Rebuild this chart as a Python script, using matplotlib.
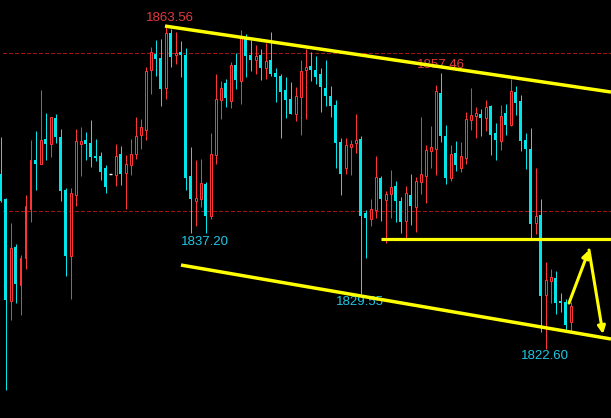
import numpy as np
import matplotlib
matplotlib.use("Agg")
import matplotlib.pyplot as plt

# candle data (one candle per bar, oldest first)
opens = [1844.73, 1841.56, 1828.69, 1835.49, 1830.72, 1834.14, 1840.34, 1846.50, 1846.03, 1849.16,
         1848.57, 1851.81, 1849.41, 1842.70, 1834.39, 1842.11, 1848.48, 1849.03, 1848.65, 1847.05,
         1847.00, 1845.49, 1844.68, 1844.64, 1847.26, 1844.89, 1845.82, 1847.30, 1849.70, 1850.34,
         1857.93, 1859.92, 1859.41, 1855.65, 1862.57, 1859.75, 1860.17, 1859.79, 1844.47, 1841.35,
         1841.60, 1843.46, 1839.45, 1847.17, 1854.14, 1856.24, 1854.01, 1858.52, 1856.54, 1861.94,
         1859.79, 1859.20, 1859.79, 1858.19, 1859.16, 1857.51, 1857.13, 1855.36, 1854.22, 1852.36,
         1854.51, 1857.89, 1858.40, 1857.89, 1857.38, 1855.61, 1854.60, 1853.46, 1848.78, 1845.49,
         1848.14, 1848.65, 1849.16, 1839.79, 1839.03, 1840.17, 1844.22, 1841.43, 1842.19, 1843.21,
         1841.31, 1838.78, 1842.07, 1840.55, 1843.71, 1844.47, 1847.64, 1847.89, 1854.98, 1849.54,
         1844.22, 1847.38, 1845.49, 1846.75, 1851.56, 1852.07, 1852.32, 1851.81, 1853.33, 1849.92,
         1848.95, 1852.45, 1850.93, 1855.11, 1853.97, 1849.03, 1847.89, 1838.52, 1839.54, 1829.41,
         1831.18, 1831.56, 1828.65, 1828.52, 1825.99]
highs = [1849.45, 1841.65, 1838.57, 1835.86, 1834.43, 1842.03, 1849.03, 1850.17, 1855.36, 1852.45,
         1851.98, 1852.32, 1850.42, 1842.91, 1842.95, 1850.42, 1850.68, 1850.04, 1851.56, 1849.16,
         1847.51, 1845.82, 1844.68, 1848.52, 1848.27, 1847.13, 1849.16, 1851.94, 1851.69, 1858.27,
         1860.80, 1861.69, 1861.81, 1863.56, 1863.08, 1862.70, 1861.56, 1860.68, 1848.14, 1846.50,
         1846.62, 1843.71, 1849.92, 1857.38, 1856.50, 1856.75, 1858.90, 1860.04, 1862.95, 1862.45,
         1861.69, 1861.05, 1860.55, 1861.31, 1862.70, 1858.14, 1857.38, 1857.00, 1856.37, 1855.74,
         1859.16, 1860.55, 1860.17, 1859.66, 1858.14, 1859.16, 1855.86, 1854.09, 1849.28, 1849.28,
         1849.03, 1852.32, 1849.54, 1840.17, 1841.56, 1847.00, 1844.47, 1842.57, 1845.23, 1843.84,
         1841.81, 1843.21, 1844.73, 1844.35, 1851.94, 1848.40, 1850.80, 1855.99, 1857.46, 1850.93,
         1848.40, 1848.90, 1848.78, 1852.57, 1855.61, 1853.21, 1852.95, 1854.09, 1853.46, 1851.18,
         1853.46, 1853.59, 1856.75, 1855.86, 1854.73, 1849.92, 1850.55, 1845.49, 1841.56, 1833.59,
         1832.70, 1832.45, 1829.66, 1828.90, 1828.52]
lows = [1841.22, 1817.38, 1826.24, 1828.44, 1826.92, 1832.74, 1838.65, 1842.70, 1846.03, 1846.50,
        1846.92, 1848.61, 1841.31, 1831.81, 1828.95, 1840.68, 1844.47, 1846.50, 1845.65, 1846.41,
        1843.97, 1842.36, 1844.68, 1843.25, 1843.38, 1840.34, 1844.64, 1846.67, 1847.93, 1849.07,
        1854.89, 1857.17, 1853.33, 1854.26, 1858.27, 1858.69, 1857.05, 1842.74, 1837.30, 1838.19,
        1840.59, 1837.20, 1839.07, 1846.03, 1851.73, 1853.21, 1853.12, 1855.53, 1853.63, 1857.05,
        1857.81, 1857.43, 1856.67, 1856.79, 1857.17, 1853.88, 1849.32, 1851.86, 1852.32, 1851.48,
        1849.70, 1851.73, 1856.50, 1856.12, 1852.62, 1853.33, 1851.94, 1845.49, 1842.07, 1844.73,
        1844.60, 1847.38, 1829.55, 1834.10, 1838.14, 1839.16, 1838.78, 1835.99, 1839.16, 1838.65,
        1837.26, 1836.62, 1838.27, 1837.38, 1842.19, 1841.05, 1845.49, 1844.60, 1848.78, 1843.46,
        1843.84, 1845.11, 1844.98, 1845.99, 1850.30, 1849.28, 1849.54, 1850.17, 1847.13, 1846.50,
        1847.76, 1849.66, 1850.80, 1852.19, 1847.64, 1845.36, 1836.62, 1837.13, 1824.73, 1822.60,
        1828.40, 1827.00, 1827.26, 1824.85, 1824.85]
closes = [1841.35, 1828.78, 1835.36, 1830.80, 1834.10, 1840.68, 1846.50, 1845.99, 1849.03, 1848.57,
          1851.90, 1849.45, 1842.62, 1834.35, 1842.32, 1848.90, 1848.90, 1848.52, 1846.92, 1846.75,
          1844.98, 1843.12, 1844.68, 1847.00, 1844.73, 1845.99, 1847.26, 1849.54, 1850.68, 1857.76,
          1860.17, 1859.32, 1855.53, 1862.57, 1859.58, 1860.04, 1859.83, 1844.26, 1841.60, 1841.69,
          1843.59, 1839.45, 1847.22, 1854.22, 1855.61, 1854.35, 1858.52, 1856.62, 1861.94, 1859.70,
          1859.16, 1859.62, 1858.19, 1859.03, 1857.43, 1857.05, 1855.11, 1854.09, 1852.32, 1854.60,
          1857.76, 1858.27, 1857.89, 1857.00, 1855.74, 1854.60, 1853.33, 1848.65, 1844.73, 1848.40,
          1848.52, 1849.03, 1839.45, 1839.16, 1840.30, 1844.35, 1841.56, 1842.19, 1843.08, 1841.31,
          1838.65, 1842.32, 1840.68, 1843.84, 1844.73, 1847.76, 1848.14, 1855.23, 1849.54, 1844.22,
          1847.26, 1845.87, 1847.00, 1851.69, 1852.19, 1852.45, 1851.81, 1853.21, 1849.66, 1849.03,
          1852.07, 1850.93, 1855.23, 1853.71, 1848.90, 1847.89, 1838.40, 1839.41, 1829.28, 1831.31,
          1831.69, 1828.40, 1828.40, 1825.61, 1828.02]

# price labels: candle index, value, side
label_idx = [33, 88, 41, 72, 109]
label_val = ["1863.56", "1857.46", "1837.20", "1829.55", "1822.60"]
label_dx = [3.2, 0, -0.7, -0.3, -0.3]
label_dy = [5.0, 6.0, -5.8, -5.8, -5.0]
label_col = ["#e2393c", "#e2393c", "#1ec8e4", "#1ec8e4", "#1ec8e4"]

# hand drawn lines (bar index, price)
upper_line = ([32.9, 122.1], [1863.45, 1855.10])
lower_line = ([36.1, 122.1], [1833.20, 1823.84])
support_line = ([76.1, 122.1], [1836.46, 1836.46])
arrow_pts = ([113.7, 117.7, 120.5], [1828.39, 1835.10, 1824.47])
grid_levels = [1840, 1860]

RED = "#ff3434"
CYAN = "#00e6ea"
YELLOW = "#ffff00"

o = np.array(opens); h = np.array(highs); l = np.array(lows); c = np.array(closes)
x = np.arange(len(o))
up = c > o
down = c < o
flat = c == o

fig = plt.figure(figsize=(6.11, 4.18), dpi=100, facecolor="black")
ax = fig.add_axes([0, 0, 1, 1], facecolor="black")

for lv in grid_levels:
    ax.axhline(lv, xmin=0.005, color="#a01414", lw=0.8, ls=(0, (3, 2)), zorder=0,
               antialiased=False)

# wicks (1 px)
wick_col = np.where(up, RED, np.where(down, CYAN, "white"))
ax.vlines(x, l, h, colors=wick_col, lw=0.72, zorder=2)
# bodies: red hollow 3 px outer, cyan filled 3 px
ax.bar(x[up], c[up] - o[up], bottom=o[up], width=0.4, facecolor="black",
       edgecolor=RED, linewidth=0.72, zorder=3)
ax.bar(x[down], o[down] - c[down], bottom=c[down], width=0.6, color=CYAN,
       linewidth=0, zorder=3)
ax.hlines(o[flat], x[flat] - 0.3, x[flat] + 0.3, colors="white", lw=1.0, zorder=3)

for i, t, dx, dy, col in zip(label_idx, label_val, label_dx, label_dy, label_col):
    yv = h[i] if dy > 0 else l[i]
    ax.annotate(t, (x[i], yv), xytext=(dx, dy), textcoords="offset points",
                ha="center", va="center", color=col, fontsize=9.5,
                family="Liberation Sans", zorder=1)

ax.plot(*upper_line, color=YELLOW, lw=2.5, zorder=4, solid_capstyle="butt")
ax.plot(*lower_line, color=YELLOW, lw=2.5, zorder=4, solid_capstyle="butt")
ax.plot(*support_line, color=YELLOW, lw=2.3, zorder=4, solid_capstyle="butt")

ax_x, ax_y = arrow_pts
for j in range(len(ax_x) - 1):
    ax.annotate("", xy=(ax_x[j + 1], ax_y[j + 1]), xytext=(ax_x[j], ax_y[j]),
                arrowprops=dict(arrowstyle="-|>", color=YELLOW, lw=2.2,
                                mutation_scale=11, shrinkA=0, shrinkB=0),
                zorder=5)

ax.set_xlim(-0.1, 122.1)
ax.set_ylim(1813.84, 1866.75)
ax.axis("off")

fig.savefig("out.png", dpi=100, facecolor="black")
